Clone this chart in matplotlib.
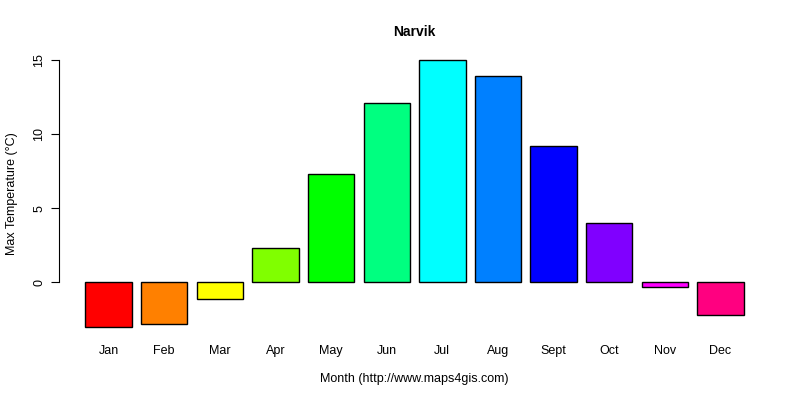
import matplotlib
matplotlib.use("Agg")
import matplotlib.pyplot as plt

months = ["Jan", "Feb", "Mar", "Apr", "May", "Jun", "Jul", "Aug", "Sept", "Oct", "Nov", "Dec"]
max_temp = [-3.0, -2.8, -1.1, 2.3, 7.3, 12.1, 15.0, 13.9, 9.2, 4.0, -0.3, -2.2]
colors = ["#FF0000", "#FF8000", "#FFFF00", "#80FF00", "#00FF00", "#00FF80",
          "#00FFFF", "#0080FF", "#0000FF", "#8000FF", "#FF00FF", "#FF0080"]
yticks = [0, 5, 10, 15]

plt.rcParams['font.family'] = ['Liberation Sans', 'DejaVu Sans']

fig = plt.figure(figsize=(8, 4), dpi=100)
ax = fig.add_axes([0.0738, 0.156, 0.8887, 0.7215])

# barplot style: width 1, space 0.2
xs = [0.7 + 1.2 * i for i in range(len(months))]
ax.bar(xs, max_temp, width=1.0, color=colors, edgecolor="black", linewidth=1)

lo, hi = min(max_temp), max(max_temp)
pad = (hi - lo) * 0.04
ax.set_ylim(lo - pad, hi + pad)
xr = 14.4 - 0.2
ax.set_xlim(0.2 - xr * 0.04, 14.4 + xr * 0.04)

ax.set_xticks(xs)
ax.set_xticklabels(months, fontsize=9)
ax.tick_params(axis='x', length=0, pad=5.5)
ax.set_yticks(yticks)
ax.set_yticklabels([str(t) for t in yticks], fontsize=9, rotation=90, va='center')
ax.tick_params(axis='y', length=6, width=0.8, pad=4)

for s in ['top', 'right', 'bottom']:
    ax.spines[s].set_visible(False)
ax.spines['left'].set_bounds(0, 15)
ax.spines['left'].set_linewidth(0.8)

ax.set_title("Narvik", fontsize=10, fontweight='bold', pad=9)
ax.set_xlabel("Month (http://www.maps4gis.com)", fontsize=9, labelpad=11)
ax.set_ylabel("Max Temperature (°C)", fontsize=9, labelpad=11)

fig.savefig("out.png", dpi=100)
